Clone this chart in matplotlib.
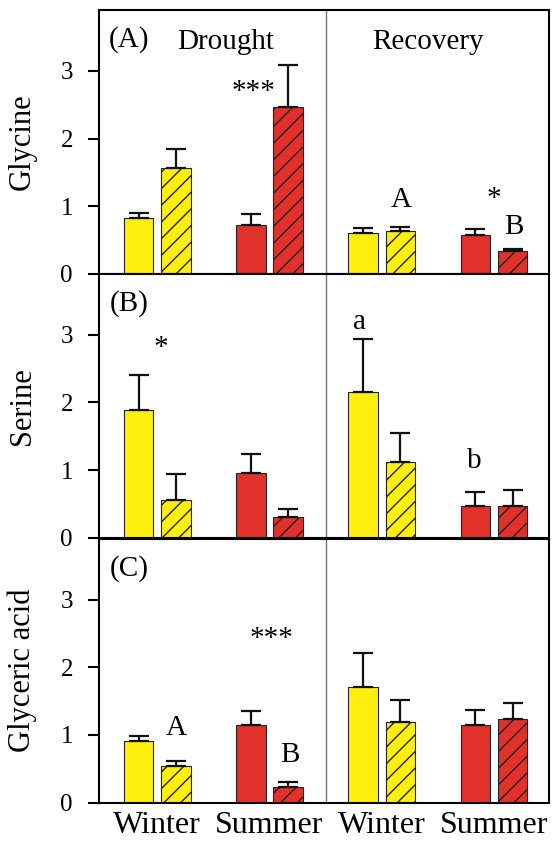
# -*- coding: utf-8 -*-
# Glycine / Serine / Glyceric acid under drought and recovery
import numpy as np
import matplotlib
matplotlib.use('Agg')
import matplotlib.pyplot as plt

plt.rcParams['font.family'] = ['Liberation Serif', 'DejaVu Serif']
plt.rcParams['hatch.linewidth'] = 1.0

# order: Drought Winter (ctrl, trt), Drought Summer (ctrl, trt),
#        Recovery Winter (ctrl, trt), Recovery Summer (ctrl, trt)
seasons = ['Winter', 'Summer', 'Winter', 'Summer']
ylabels = ['Glycine', 'Serine', 'Glyceric acid']
panel_tags = ['(A)', '(B)', '(C)']

glycine_mean = [0.83, 1.56, 0.73, 2.46, 0.61, 0.64, 0.57, 0.34]
glycine_top = [0.90, 1.85, 0.89, 3.09, 0.68, 0.69, 0.66, 0.37]
serine_mean = [1.89, 0.56, 0.95, 0.31, 2.16, 1.12, 0.47, 0.47]
serine_top = [2.41, 0.94, 1.24, 0.43, 2.93, 1.55, 0.68, 0.71]
glyceric_mean = [0.91, 0.54, 1.15, 0.23, 1.71, 1.19, 1.15, 1.24]
glyceric_top = [0.98, 0.62, 1.36, 0.31, 2.21, 1.51, 1.37, 1.47]

means = [glycine_mean, serine_mean, glyceric_mean]
tops = [glycine_top, serine_top, glyceric_top]

# significance marks: (x, y, text)
marks_a = [(0.86, 2.58, '***'), (2.17, 0.99, 'A'), (3.0, 1.0, '*'), (3.18, 0.59, 'B')]
marks_b = [(0.03, 2.70, '*'), (1.80, 3.08, 'a'), (2.82, 1.03, 'b')]
marks_c = [(1.02, 2.32, '***'), (0.17, 1.00, 'A'), (1.18, 0.60, 'B')]
marks = [marks_a, marks_b, marks_c]

yellow = '#FFEE0E'
red = '#E2302B'
colors = [yellow, yellow, red, red, yellow, yellow, red, red]
hatches = ['', '//', '', '//', '', '//', '', '//']

groups = np.arange(4)
off = 0.1665
width = 0.263
xpos = np.ravel([[g - off, g + off] for g in groups])

fig = plt.figure(figsize=(5.53, 8.42), dpi=100)
left, axw = 0.1796, 0.8123
bottoms = [0.6746, 0.3614, 0.0467]
axh = 0.3135

for i in range(3):
    ax = fig.add_axes([left, bottoms[i], axw, axh])
    m = np.array(means[i])
    err = np.array(tops[i]) - m
    for k in range(8):
        ax.bar(xpos[k], m[k], width=width, color=colors[k],
               edgecolor='#222222', linewidth=0.8, hatch=hatches[k],
               yerr=[[0], [err[k]]],
               error_kw=dict(ecolor='#111111', elinewidth=1.6,
                             capsize=7, capthick=1.6), zorder=2)
    ax.axvline(1.5, color='#777777', lw=1.0, zorder=1)
    ax.set_xlim(-0.516, 3.486)
    ax.set_ylim(0, 3.9)
    ax.set_yticks([0, 1, 2, 3])
    ax.tick_params(axis='y', labelsize=18, length=8, width=1.5, pad=11)
    ax.tick_params(axis='x', length=0, labelsize=23, pad=6)
    ax.set_xticks(groups)
    if i == 2:
        ax.set_xticklabels(seasons)
    else:
        ax.set_xticklabels([])
    for sp in ax.spines.values():
        sp.set_linewidth(1.5)
    ax.set_ylabel(ylabels[i], fontsize=22)
    ax.yaxis.set_label_coords(-0.139, 0.5)
    ax.text(-0.25, 3.36, panel_tags[i], fontsize=21, ha='center',
            va='baseline')
    if i == 0:
        ax.text(0.61, 3.33, 'Drought', fontsize=21, ha='center', va='baseline')
        ax.text(2.41, 3.33, 'Recovery', fontsize=21, ha='center', va='baseline')
    for (x, y, t) in marks[i]:
        ax.text(x, y, t, fontsize=21, ha='center', va='baseline')

fig.savefig('out.png', dpi=100)
